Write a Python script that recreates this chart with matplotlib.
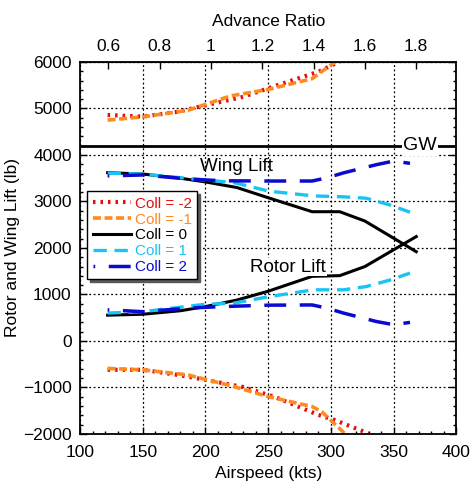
import numpy as np
import matplotlib.pyplot as plt
from matplotlib.ticker import MultipleLocator

plt.rcParams['font.family'] = ['Liberation Sans', 'DejaVu Sans']

# airspeed (kts) and lift (lb) per collective setting
spd_m2 = [122, 150, 178, 201, 230, 255, 290, 303, 330]
rotor_m2 = [4860, 4825, 4930, 5075, 5250, 5480, 5790, 5960, 6300]
wing_m2 = [-620, -620, -730, -840, -990, -1200, -1590, -1700, -1990]

spd_m1 = [122, 150, 186, 220, 250, 285, 293, 311]
rotor_m1 = [4750, 4820, 4960, 5270, 5410, 5640, 5800, 6150]
wing_m1 = [-590, -620, -730, -960, -1196, -1410, -1530, -1990]

spd_0 = [122, 150, 180, 200, 225, 250, 285, 307, 327, 368]
rotor_0 = [555, 575, 650, 740, 880, 1070, 1390, 1405, 1600, 2245]
wing_0 = [3620, 3590, 3500, 3420, 3300, 3080, 2780, 2780, 2580, 1920]

spd_p1 = [122, 150, 200, 222, 251, 286, 310, 328, 347, 363]
rotor_p1 = [600, 630, 790, 810, 955, 1100, 1100, 1170, 1310, 1460]
wing_p1 = [3610, 3590, 3460, 3410, 3220, 3120, 3100, 3070, 2925, 2770]

spd_p2 = [122, 150, 188, 214, 250, 285, 297, 310, 336, 350, 363]
rotor_p2 = [670, 630, 710, 740, 770, 775, 705, 600, 420, 350, 400]
wing_p2 = [3550, 3570, 3480, 3445, 3440, 3440, 3510, 3615, 3790, 3870, 3820]

gross_weight = 4200
omega_r = 204.4  # kts per unit advance ratio
mu_ticks = [0.6, 0.8, 1.0, 1.2, 1.4, 1.6, 1.8]
mu_labels = ['0.6', '0.8', '1', '1.2', '1.4', '1.6', '1.8']

fig = plt.figure(figsize=(4.72, 4.88), dpi=100)
ax = fig.add_axes([0.1695, 0.1107, 0.7975, 0.7623])

series = [
    ('Coll = -2', '#e01010', dict(linestyle=(0, (0.6, 1.2)), linewidth=3), spd_m2, rotor_m2, wing_m2),
    ('Coll = -1', '#ff8a1e', dict(linestyle=(0, (2.2, 1.0)), linewidth=2.6), spd_m1, rotor_m1, wing_m1),
    ('Coll = 0', 'black', dict(linestyle='-', linewidth=2.2), spd_0, rotor_0, wing_0),
    ('Coll = 1', '#18c4f2', dict(linestyle=(0, (4.0, 2.3)), linewidth=2.4), spd_p1, rotor_p1, wing_p1),
    ('Coll = 2', '#0a0ad0', dict(linestyle=(5.8, (6.3, 3.9)), linewidth=2.5), spd_p2, rotor_p2, wing_p2),
]
for name, col, st, s, r, w in series:
    ax.plot(s, r, color=col, label=name, **st)
    ax.plot(s, w, color=col, **st)

ax.axhline(gross_weight, color='black', linewidth=2, zorder=1)
ax.text(371, gross_weight, 'GW', fontsize=14, ha='center', va='center',
        bbox=dict(facecolor='white', edgecolor='none', pad=1))
ax.text(225, 3750, 'Wing Lift', fontsize=13.5, ha='center', va='center')
ax.text(266, 1590, 'Rotor Lift', fontsize=13.5, ha='center', va='center',
        bbox=dict(facecolor='white', edgecolor='none', pad=0.5))

ax.set_xlim(100, 400)
ax.set_ylim(-2000, 6000)
ax.xaxis.set_major_locator(MultipleLocator(50))
ax.xaxis.set_minor_locator(MultipleLocator(10))
ax.yaxis.set_major_locator(MultipleLocator(1000))
ax.yaxis.set_minor_locator(MultipleLocator(200))
ax.grid(True, which='major', color='black', linestyle=(0, (1.5, 2)), linewidth=0.9)
ax.tick_params(which='both', direction='in', top=False, right=True, labelsize=12.5, width=1)
ax.tick_params(which='major', length=5)
ax.tick_params(axis='y', which='major', pad=6)
ax.tick_params(axis='x', which='major', pad=8)
ax.tick_params(which='minor', length=2.5)
for sp in ax.spines.values():
    sp.set_linewidth(1.3)
ax.set_xlabel('Airspeed (kts)', fontsize=12.5, labelpad=4)
ax.set_ylabel('Rotor and Wing Lift (lb)', fontsize=12.5, labelpad=2)

top = ax.secondary_xaxis('top', functions=(lambda v: v / omega_r, lambda m: m * omega_r))
top.set_xticks(mu_ticks)
top.set_xticklabels(mu_labels)
top.tick_params(direction='in', length=5, width=1, labelsize=12.5, pad=6)
top.set_xlabel('Advance Ratio', fontsize=12.5, labelpad=9)

leg = ax.legend(loc='upper left', bbox_to_anchor=(0.019, 0.652), fontsize=11,
                labelcolor='linecolor', frameon=True, fancybox=False,
                shadow={'color': '0.35', 'alpha': 1}, framealpha=1,
                handlelength=2.5, handletextpad=0.25, labelspacing=0.12,
                borderpad=0.35, borderaxespad=0)
leg.get_frame().set_edgecolor('black')
leg.get_frame().set_linewidth(1)

fig.savefig('out.png', dpi=100)
